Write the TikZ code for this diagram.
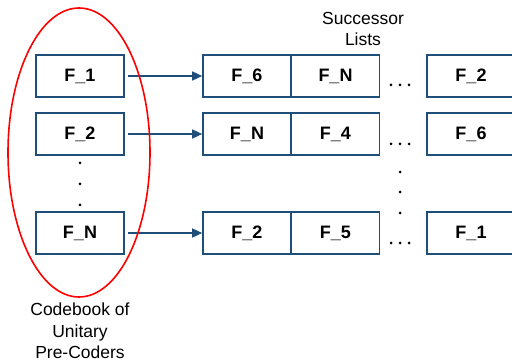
\documentclass[tikz,border=0pt]{standalone}
\usepackage{fontspec}
\setmainfont{Liberation Sans}
\usetikzlibrary{arrows.meta}
\definecolor{boxblue}{HTML}{1F4E79}
\begin{document}
\begin{tikzpicture}[x=1pt,y=-1pt,
  cell/.style={draw=boxblue,line width=1.6pt,minimum width=88pt,minimum height=42pt,inner sep=0pt,font=\fontsize{18}{20}\selectfont\bfseries},
  link/.style={draw=boxblue,line width=1.4pt,-{Triangle[length=10pt,width=9pt]}},
  dotmark/.style={circle,fill=black,inner sep=0pt,minimum size=3pt},
  lbl/.style={align=center,font=\fontsize{17.5}{21.5}\selectfont}]
\useasboundingbox (0,0) rectangle (512,363);
\clip (0,0) rectangle (512,363);
% left codebook
\node[cell] (l1) at (80,76) {F\_1};
\node[cell] (l2) at (80,134) {F\_2};
\node[cell] (lN) at (80,233) {F\_N};
\node[dotmark] (ld1) at (80,163) {};
\node[dotmark] (ld2) at (80,184) {};
\node[dotmark] (ld3) at (80,205) {};
% row 1
\node[cell] (a1) at (247,76) {F\_6};
\node[cell] (a2) at (335.5,76) {F\_N};
\node[cell] (a3) at (471,76) {F\_2};
% row 2
\node[cell] (b1) at (247,134) {F\_N};
\node[cell] (b2) at (335.5,134) {F\_4};
\node[cell] (b3) at (471,134) {F\_6};
% row 3
\node[cell] (c1) at (247,233) {F\_2};
\node[cell] (c2) at (335.5,233) {F\_5};
\node[cell] (c3) at (471,233) {F\_1};
% horizontal dots
\foreach \y/\n in {85/a,144/b,243/c}{
  \node[dotmark] (\n h1) at (391,\y) {};
  \node[dotmark] (\n h2) at (400,\y) {};
  \node[dotmark] (\n h3) at (409,\y) {};
}
% vertical dots
\node[dotmark] (vd1) at (400,172) {};
\node[dotmark] (vd2) at (400,192) {};
\node[dotmark] (vd3) at (400,213) {};
% arrows
\draw[link] ([xshift=3pt]l1.east) -- (a1.west);
\draw[link] ([xshift=3pt]l2.east) -- (b1.west);
\draw[link] ([xshift=3pt]lN.east) -- (c1.west);
% ellipse
\draw[red,line width=1.6pt] (79,152.5) ellipse [x radius=71, y radius=144.5];
% labels
\node[lbl] (succ) at (363,29) {Successor\\Lists};
\node[lbl] (code) at (80,331) {Codebook of\\Unitary\\Pre-Coders};
\end{tikzpicture}
\end{document}
